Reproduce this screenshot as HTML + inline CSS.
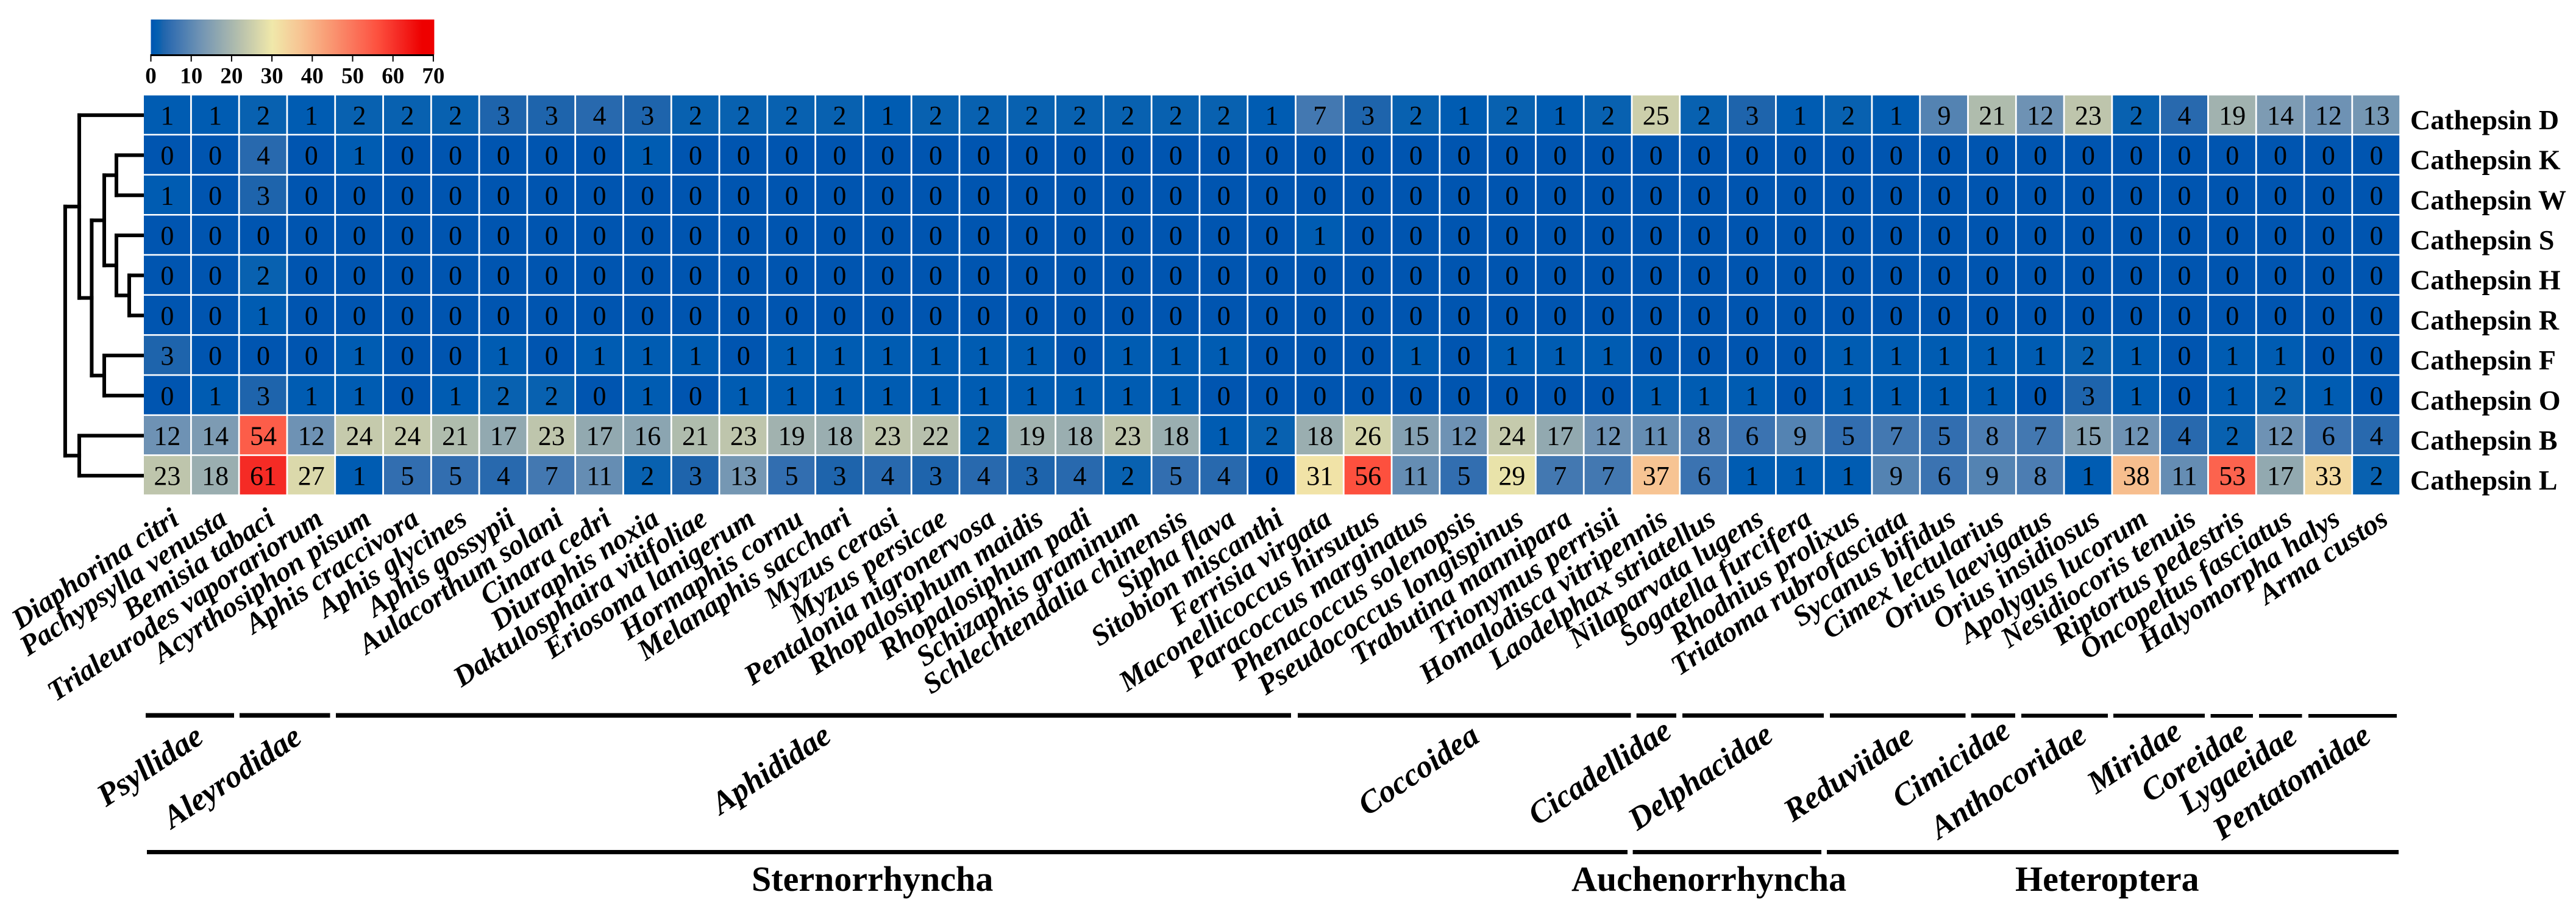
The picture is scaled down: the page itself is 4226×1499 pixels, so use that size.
<!DOCTYPE html>
<html lang="en">
<head>
<meta charset="utf-8">
<title>Cathepsin gene family heatmap</title>
<style>
html,body{margin:0;padding:0;background:#fff;}
svg{display:block;}
text{fill:#000;font-family:"Liberation Serif",serif;}
.b{font-weight:bold;}
.bi{font-weight:bold;font-style:italic;}
</style>
</head>
<body>
<svg id="chart" xmlns="http://www.w3.org/2000/svg" width="4226" height="1499" viewBox="0 0 4226 1499">
  <rect x="0" y="0" width="4226" height="1499" fill="#fff"/>
  <defs>
    <linearGradient id="cbGrad" x1="0" x2="1" y1="0" y2="0"></linearGradient>
  </defs>
  <g id="colorbar"></g>
  <g id="dendrogram"></g>
  <g id="cells"></g>
  <g id="rowlabels"></g>
  <g id="collabels"></g>

  <g fill="#000">
    <rect x="239" y="1169.5" width="145" height="7.5"/>
    <rect x="393" y="1169.5" width="148.5" height="7.5"/>
    <rect x="551" y="1169.5" width="1567" height="7.5"/>
    <rect x="2129" y="1169.5" width="546.5" height="7.5"/>
    <rect x="2684.7" y="1170" width="65.3" height="7"/>
    <rect x="2760" y="1170" width="232" height="7"/>
    <rect x="3002" y="1170" width="222.5" height="7"/>
    <rect x="3233.7" y="1170" width="72.3" height="7"/>
    <rect x="3316" y="1170.5" width="142" height="6.5"/>
    <rect x="3467" y="1170.5" width="150" height="6.5"/>
    <rect x="3626.6" y="1171" width="69.4" height="6"/>
    <rect x="3706" y="1171" width="70.5" height="6"/>
    <rect x="3787" y="1171" width="145" height="6"/>
  </g>
  <g class="bi" font-size="52.5">
    <text class="bi" transform="translate(174,1324) rotate(-33.6)">Psyllidae</text>
    <text class="bi" transform="translate(282,1360) rotate(-33.6)">Aleyrodidae</text>
    <text class="bi" transform="translate(1182,1337) rotate(-33.6)">Aphididae</text>
    <text class="bi" transform="translate(2243,1339) rotate(-33.6)">Coccoidea</text>
    <text class="bi" transform="translate(2522,1355) rotate(-33.6)">Cicadellidae</text>
    <text class="bi" transform="translate(2686,1363) rotate(-33.6)">Delphacidae</text>
    <text class="bi" transform="translate(2941,1349) rotate(-33.6)">Reduviidae</text>
    <text class="bi" transform="translate(3119,1327) rotate(-33.6)">Cimicidae</text>
    <text class="bi" transform="translate(3181,1377) rotate(-33.6)">Anthocoridae</text>
    <text class="bi" transform="translate(3439,1303) rotate(-33.6)">Miridae</text>
    <text class="bi" transform="translate(3527,1317) rotate(-33.6)">Coreidae</text>
    <text class="bi" transform="translate(3589,1337) rotate(-33.6)">Lygaeidae</text>
    <text class="bi" transform="translate(3645,1379) rotate(-33.6)">Pentatomidae</text>
  </g>
  <g fill="#000">
    <rect x="241" y="1394" width="2429" height="7"/>
    <rect x="2678.6" y="1394" width="309.4" height="7"/>
    <rect x="2997" y="1394" width="938" height="7"/>
  </g>
  <g font-size="58">
    <text class="b" x="1233" y="1461">Sternorrhyncha</text>
    <text class="b" x="2578" y="1461">Auchenorrhyncha</text>
    <text class="b" x="3306" y="1461">Heteroptera</text>
  </g>
</svg>
<script>
const speciesLabels = ["Diaphorina citri","Pachypsylla venusta","Bemisia tabaci","Trialeurodes vaporariorum","Acyrthosiphon pisum","Aphis craccivora","Aphis glycines","Aphis gossypii","Aulacorthum solani","Cinara cedri","Diuraphis noxia","Daktulosphaira vitifoliae","Eriosoma lanigerum","Hormaphis cornu","Melanaphis sacchari","Myzus cerasi","Myzus persicae","Pentalonia nigronervosa","Rhopalosiphum maidis","Rhopalosiphum padi","Schizaphis graminum","Schlechtendalia chinensis","Sipha flava","Sitobion miscanthi","Ferrisia virgata","Maconellicoccus hirsutus","Paracoccus marginatus","Phenacoccus solenopsis","Pseudococcus longispinus","Trabutina mannipara","Trionymus perrisii","Homalodisca vitripennis","Laodelphax striatellus","Nilaparvata lugens","Sogatella furcifera","Rhodnius prolixus","Triatoma rubrofasciata","Sycanus bifidus","Cimex lectularius","Orius laevigatus","Orius insidiosus","Apolygus lucorum","Nesidiocoris tenuis","Riptortus pedestris","Oncopeltus fasciatus","Halyomorpha halys","Arma custos"];
const rowLabels = ["Cathepsin D","Cathepsin K","Cathepsin W","Cathepsin S","Cathepsin H","Cathepsin R","Cathepsin F","Cathepsin O","Cathepsin B","Cathepsin L"];
const valuesD = [1,1,2,1,2,2,2,3,3,4,3,2,2,2,2,1,2,2,2,2,2,2,2,1,7,3,2,1,2,1,2,25,2,3,1,2,1,9,21,12,23,2,4,19,14,12,13];
const valuesK = [0,0,4,0,1,0,0,0,0,0,1,0,0,0,0,0,0,0,0,0,0,0,0,0,0,0,0,0,0,0,0,0,0,0,0,0,0,0,0,0,0,0,0,0,0,0,0];
const valuesW = [1,0,3,0,0,0,0,0,0,0,0,0,0,0,0,0,0,0,0,0,0,0,0,0,0,0,0,0,0,0,0,0,0,0,0,0,0,0,0,0,0,0,0,0,0,0,0];
const valuesS = [0,0,0,0,0,0,0,0,0,0,0,0,0,0,0,0,0,0,0,0,0,0,0,0,1,0,0,0,0,0,0,0,0,0,0,0,0,0,0,0,0,0,0,0,0,0,0];
const valuesH = [0,0,2,0,0,0,0,0,0,0,0,0,0,0,0,0,0,0,0,0,0,0,0,0,0,0,0,0,0,0,0,0,0,0,0,0,0,0,0,0,0,0,0,0,0,0,0];
const valuesR = [0,0,1,0,0,0,0,0,0,0,0,0,0,0,0,0,0,0,0,0,0,0,0,0,0,0,0,0,0,0,0,0,0,0,0,0,0,0,0,0,0,0,0,0,0,0,0];
const valuesF = [3,0,0,0,1,0,0,1,0,1,1,1,0,1,1,1,1,1,1,0,1,1,1,0,0,0,1,0,1,1,1,0,0,0,0,1,1,1,1,1,2,1,0,1,1,0,0];
const valuesO = [0,1,3,1,1,0,1,2,2,0,1,0,1,1,1,1,1,1,1,1,1,1,0,0,0,0,0,0,0,0,0,1,1,1,0,1,1,1,1,0,3,1,0,1,2,1,0];
const valuesB = [12,14,54,12,24,24,21,17,23,17,16,21,23,19,18,23,22,2,19,18,23,18,1,2,18,26,15,12,24,17,12,11,8,6,9,5,7,5,8,7,15,12,4,2,12,6,4];
const valuesL = [23,18,61,27,1,5,5,4,7,11,2,3,13,5,3,4,3,4,3,4,2,5,4,0,31,56,11,5,29,7,7,37,6,1,1,1,9,6,9,8,1,38,11,53,17,33,2];
const colorTicks = [0,10,20,30,40,50,60,70];
const dendroTree = [6.06,[4.95,0,[3.97,[2.98,[2.02,1,2],[2.02,3,[1.01,4,5]]],[2.98,6,7]]],[4.95,8,9]];

const matrix = [valuesD,valuesK,valuesW,valuesS,valuesH,valuesR,valuesF,valuesO,valuesB,valuesL];
const colorDomain = [0,1,2,3,5,12,23,30,37,40,53,56,61,67,70];
const colorRange = [[0,85,176],[0,92,178],[8,97,176],[30,100,172],[50,110,176],[110,146,180],[190,197,172],[240,232,170],[247,196,147],[248,178,133],[252,99,78],[253,80,62],[245,43,37],[238,0,0],[238,0,0]];

const NS = 'http://www.w3.org/2000/svg';
const plotLeft = 236, plotRight = 3939, plotTop = 156, plotBottom = 813;
const cellW = (plotRight - plotLeft) / speciesLabels.length;
const cellH = (plotBottom - plotTop) / rowLabels.length;
const xPos = i => plotLeft + cellW * i;
const yPos = r => plotTop + cellH * r;
const cbX = v => 247.5 + v * 6.62;
const dendroX = h => 233 - h * 20.8;

function colorOf(v){
  let k = 0;
  while(k < colorDomain.length - 2 && v > colorDomain[k+1]) k++;
  const t = Math.max(0, Math.min(1, (v - colorDomain[k]) / (colorDomain[k+1] - colorDomain[k])));
  const a = colorRange[k], b = colorRange[k+1];
  return 'rgb(' + a.map((c,j) => Math.round(c + (b[j]-c)*t)).join(',') + ')';
}
function mk(parent, tag, attrs, txt){
  const el = document.createElementNS(NS, tag);
  for(const key in attrs){ el.setAttribute(key, attrs[key]); }
  if(txt !== undefined){ el.textContent = txt; }
  parent.appendChild(el);
  return el;
}

// colour legend
const grad = document.getElementById('cbGrad');
for(let v = 0; v <= 70; v += 1){
  mk(grad, 'stop', {offset: (v/70*100)+'%', 'stop-color': colorOf(v)});
}
const cb = document.getElementById('colorbar');
const cbRect = mk(cb, 'rect', {x: cbX(0), y: 32, width: cbX(70)-cbX(0)+1.5, height: 57.5, fill: 'url(#cbGrad)'});


const cbAxis = mk(cb, 'rect', {x: cbX(0)-1, y: 89, width: cbX(70)-cbX(0)+2, height: 3, fill: '#000'});


colorTicks.forEach(v => {
  const tick = mk(cb, 'rect', {x: cbX(v)-1, y: 90, width: 2, height: 11, fill: '#000'});
  
  
  const lab = mk(cb, 'text', {x: cbX(v), y: 136.5, 'text-anchor': 'middle', 'font-size': 37, class: 'b'}, String(v));
  
  
});

// heatmap cells
const cellsG = document.getElementById('cells');
matrix.forEach((row, r) => {
  row.forEach((v, c) => {
    const rect = mk(cellsG, 'rect', {x: xPos(c), y: yPos(r)+0.5, width: cellW-2.8, height: cellH-2.6, fill: colorOf(v)});
    
    
    const t = mk(cellsG, 'text', {x: xPos(c)+cellW/2-1, y: yPos(r)+cellH/2+15, 'text-anchor': 'middle', 'font-size': 44}, String(v));
    
    
  });
});

// row labels
const rowG = document.getElementById('rowlabels');
rowLabels.forEach((name, r) => {
  const t = mk(rowG, 'text', {x: 3954, y: yPos(r)+cellH/2+23, 'font-size': 46, class: 'b'}, name);
  
  
});

// species labels
const colG = document.getElementById('collabels');
speciesLabels.forEach((name, c) => {
  const cx = xPos(c) + cellW/2 + 21;
  const t = mk(colG, 'text', {transform: 'translate(' + cx + ',858) rotate(-33.6)', 'text-anchor': 'end', 'font-size': 47.3, class: 'bi'}, name);
  
  
});

// dendrogram
const dendroG = document.getElementById('dendrogram');
function drawSeg(x1, y1, x2, y2){
  const ln = mk(dendroG, 'line', {x1: x1, y1: y1, x2: x2, y2: y2, stroke: '#000', 'stroke-width': 6, 'stroke-linecap': 'square'});
  
  
}
function drawNode(node){
  if(typeof node === 'number'){
    return {x: dendroX(0), y: yPos(node)+cellH/2};
  }
  const a = drawNode(node[1]), b = drawNode(node[2]);
  const x = dendroX(node[0]);
  drawSeg(x, a.y, x, b.y);
  drawSeg(x, a.y, a.x, a.y);
  drawSeg(x, b.y, b.x, b.y);
  return {x: x, y: (a.y+b.y)/2};
}
drawNode(dendroTree);
</script>
</body>
</html>
